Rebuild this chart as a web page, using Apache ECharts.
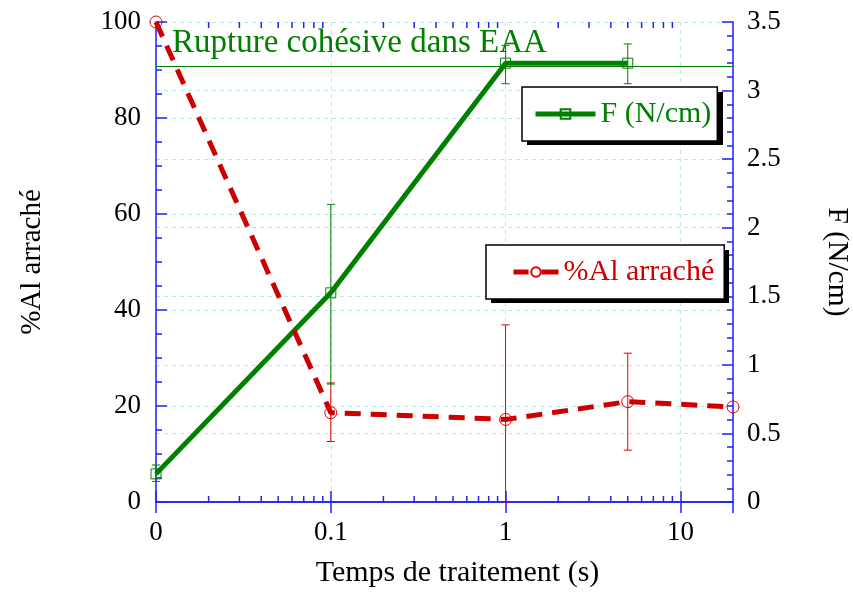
<!DOCTYPE html>
<html>
<head>
<meta charset="utf-8">
<script src="https://cdn.jsdelivr.net/npm/echarts@6/dist/echarts.min.js"></script>
<style>
  html, body { margin: 0; padding: 0; background: #fff; }
  #main { width: 853px; height: 592px; }
</style>
</head>
<body>
<div id="main"></div>
<script>
// treatment time (s); "0" is drawn at 0.01 on the log axis
const alX = [0.01, 0.1, 1, 5, 20];
const alArrache = [100, 18.6, 17.2, 20.9, 19.8];
const alErrX = [0.1, 1, 5];
const alLow = [12.6, 0, 10.8];
const alHigh = [24.8, 36.9, 31.0];

const fX = [0.01, 0.1, 1, 5];
const fValues = [0.205, 1.525, 3.2, 3.2];
const fLow = [0.15, 0.86, 3.05, 3.05];
const fHigh = [0.27, 2.17, 3.33, 3.34];

const ruptureLevel = 3.18;
const xMinorTicks = [0.02, 0.03, 0.04, 0.05, 0.06, 0.07, 0.08, 0.09,
    0.2, 0.3, 0.4, 0.5, 0.6, 0.7, 0.8, 0.9,
    2, 3, 4, 5, 6, 7, 8, 9];

const green = '#008000';
const red = '#cc0000';
const redThin = '#e00000';
const blue = '#2020ff';
const gridColor = '#b8e8df';
const font = 'Liberation Serif';

let myChart = echarts.init(document.getElementById('main'));

function errorBars(color) {
    return function (params, api) {
        let x = api.value(0);
        let top = api.coord([x, api.value(2)]);
        let bot = api.coord([x, api.value(1)]);
        let style = {stroke: color, lineWidth: 1};
        return {
            type: 'group',
            children: [
                {type: 'line', shape: {x1: top[0], y1: top[1], x2: bot[0], y2: bot[1]}, style: style},
                {type: 'line', shape: {x1: top[0] - 4, y1: top[1], x2: top[0] + 4, y2: top[1]}, style: style},
                {type: 'line', shape: {x1: bot[0] - 4, y1: bot[1], x2: bot[0] + 4, y2: bot[1]}, style: style}
            ]
        };
    };
}

let logAxis = {
    type: 'log',
    logBase: 10,
    min: 0.01,
    max: 20,
    axisLine: {show: true, lineStyle: {color: blue, width: 1.5}},
    axisTick: {show: true, inside: true, length: 11, lineStyle: {color: blue, width: 1.5}}
};

let legendBox = {
    backgroundColor: '#fff',
    borderColor: '#000',
    borderWidth: 1.5,
    z: 6
};

let option = {
    animation: false,
    backgroundColor: '#fff',
    grid: {left: 156, right: 120, top: 22, bottom: 90, outerBoundsMode: 'none', containLabel: false},
    // black drop shadows behind the two legend boxes
    graphic: [
        {type: 'rect', left: 527, top: 92, z: 5, shape: {width: 196, height: 53}, style: {fill: '#000'}},
        {type: 'rect', left: 491, top: 250, z: 5, shape: {width: 238, height: 53}, style: {fill: '#000'}}
    ],
    legend: [
        Object.assign({}, legendBox, {
            data: ['F (N/cm)'],
            left: 522, top: 87,
            padding: [12, 6, 12, 11],
            itemWidth: 60, itemHeight: 12,
            lineStyle: {width: 5},
            textStyle: {fontSize: 30, color: green, fontFamily: font}
        }),
        Object.assign({}, legendBox, {
            data: ['%Al arraché'],
            left: 486, top: 245,
            padding: [12, 10, 12, 25],
            itemWidth: 45, itemHeight: 12,
            lineStyle: {width: 5, type: [15, 13, 17, 1]},
            textStyle: {fontSize: 30, color: red, fontFamily: font}
        })
    ],
    xAxis: [
        Object.assign({}, logAxis, {
            position: 'bottom',
            name: 'Temps de traitement (s)',
            nameLocation: 'middle',
            nameGap: 56,
            nameTextStyle: {fontSize: 30, color: '#000', fontFamily: font, padding: [0, 0, 0, 26]},
            axisLabel: {
                fontSize: 27, color: '#000', fontFamily: font, margin: 17,
                showMaxLabel: false,
                formatter: function (v) {
                    if (v < 0.05) return '0';
                    if (v > 15) return '';
                    return String(v);
                }
            },
            splitLine: {show: true, lineStyle: {color: gridColor, type: [4, 4], width: 1}}
        }),
        Object.assign({}, logAxis, {
            position: 'top',
            axisLabel: {show: false},
            splitLine: {show: false}
        })
    ],
    yAxis: [
        {
            type: 'value',
            min: 0, max: 100, interval: 20,
            position: 'left',
            name: '%Al arraché',
            nameLocation: 'middle',
            nameGap: 109,
            nameTextStyle: {fontSize: 29, color: '#000', fontFamily: font},
            axisLine: {show: true, lineStyle: {color: blue, width: 1.5}},
            axisTick: {show: true, inside: true, length: 11, lineStyle: {color: blue, width: 1.5}},
            minorTick: {show: true, splitNumber: 4, length: 6, lineStyle: {color: blue, width: 1.5}},
            axisLabel: {fontSize: 27, color: '#000', fontFamily: font, margin: 15},
            splitLine: {show: true, lineStyle: {color: gridColor, type: [4, 4], width: 1}}
        },
        {
            type: 'value',
            min: 0, max: 3.5, interval: 0.5,
            position: 'right',
            name: 'F (N/cm)',
            nameLocation: 'middle',
            nameRotate: -90,
            nameGap: 89,
            nameTextStyle: {fontSize: 29.5, color: '#000', fontFamily: font},
            axisLine: {show: true, lineStyle: {color: blue, width: 1.5}},
            axisTick: {show: true, inside: true, length: 11, lineStyle: {color: blue, width: 1.5}},
            minorTick: {show: true, splitNumber: 5, length: 6, lineStyle: {color: blue, width: 1.5}},
            axisLabel: {fontSize: 27, color: '#000', fontFamily: font, margin: 14},
            splitLine: {show: true, lineStyle: {color: gridColor, type: [4, 4], width: 1}}
        }
    ],
    series: [
        {
            name: 'x-minor-ticks',
            type: 'custom',
            silent: true,
            xAxisIndex: 0, yAxisIndex: 0,
            data: xMinorTicks.map(v => [v, 50]),
            renderItem: function (params, api) {
                let cs = params.coordSys;
                let x = api.coord([api.value(0), 50])[0];
                let style = {stroke: blue, lineWidth: 1.5};
                return {
                    type: 'group',
                    children: [
                        {type: 'line', shape: {x1: x, y1: cs.y + cs.height, x2: x, y2: cs.y + cs.height - 6}, style: style},
                        {type: 'line', shape: {x1: x, y1: cs.y, x2: x, y2: cs.y + 6}, style: style}
                    ]
                };
            }
        },
        {
            name: 'al-err',
            type: 'custom',
            silent: true,
            xAxisIndex: 0, yAxisIndex: 0,
            data: alErrX.map((x, i) => [x, alLow[i], alHigh[i]]),
            encode: {x: 0, y: [1, 2]},
            renderItem: errorBars(redThin),
            z: 3
        },
        {
            name: 'f-err',
            type: 'custom',
            silent: true,
            xAxisIndex: 0, yAxisIndex: 1,
            data: fX.map((x, i) => [x, fLow[i], fHigh[i]]),
            encode: {x: 0, y: [1, 2]},
            renderItem: errorBars(green),
            z: 3
        },
        {
            name: 'F (N/cm)',
            type: 'line',
            xAxisIndex: 0, yAxisIndex: 1,
            data: fX.map((x, i) => [x, fValues[i]]),
            symbol: 'rect',
            symbolSize: 10,
            showAllSymbol: true,
            lineStyle: {color: green, width: 5},
            itemStyle: {color: 'rgba(0,0,0,0)', borderColor: green, borderWidth: 1},
            markLine: {
                silent: true,
                symbol: 'none',
                lineStyle: {color: green, width: 1.2, type: 'solid'},
                label: {
                    show: true,
                    position: 'insideStartTop',
                    distance: [16, 6],
                    formatter: 'Rupture cohésive dans EAA',
                    fontSize: 33, color: green, fontFamily: font
                },
                data: [{yAxis: ruptureLevel}]
            },
            z: 4
        },
        {
            name: '%Al arraché',
            type: 'line',
            xAxisIndex: 0, yAxisIndex: 0,
            data: alX.map((x, i) => [x, alArrache[i]]),
            symbol: 'circle',
            symbolSize: 12,
            showAllSymbol: true,
            clip: false,
            lineStyle: {color: red, width: 5, type: [16, 10]},
            itemStyle: {color: 'rgba(0,0,0,0)', borderColor: redThin, borderWidth: 1},
            z: 5
        }
    ]
};

myChart.setOption(option);
</script>
</body>
</html>
